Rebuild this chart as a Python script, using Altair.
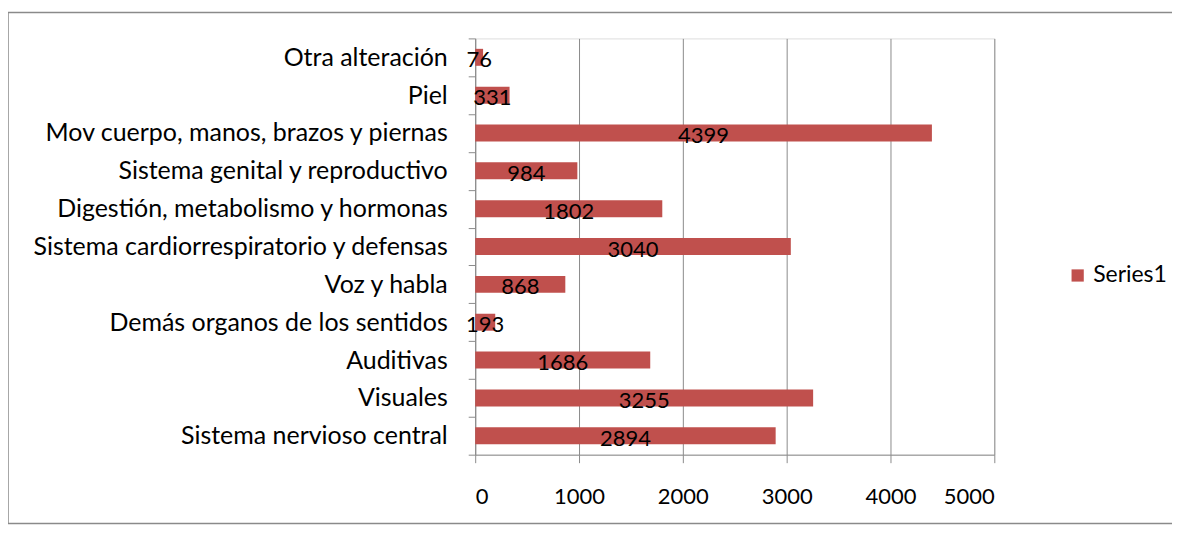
import altair as alt
import pandas as pd

categories = [
    "Otra alteración",
    "Piel",
    "Mov cuerpo, manos, brazos y piernas",
    "Sistema genital y reproductivo",
    "Digestión, metabolismo y hormonas",
    "Sistema cardiorrespiratorio y defensas",
    "Voz y habla",
    "Demás organos de los sentidos",
    "Auditivas",
    "Visuales",
    "Sistema nervioso central",
]
values = [76, 331, 4399, 984, 1802, 3040, 868, 193, 1686, 3255, 2894]
x_ticks = [0, 1000, 2000, 3000, 4000, 5000]
series_name = "Series1"

df = pd.DataFrame({"cat": categories, "val": values, "series": series_name})

FONT = "Lato"
BAR = "#C0504D"
GRID = "#8C8C8C"
FRAME = "#8A8A8A"

y_enc = alt.Y(
    "cat:N",
    sort=None,
    scale=alt.Scale(paddingInner=0, paddingOuter=0),
    axis=alt.Axis(
        title=None,
        tickBand="extent",
        tickSize=7,
        tickColor=GRID,
        domainColor=GRID,
        labelPadding=21,
        labelFont=FONT,
        labelFontSize=25,
        labelColor="black",
        labelLimit=600,
    ),
)

x_enc = alt.X(
    "val:Q",
    scale=alt.Scale(domain=[0, 5000], nice=False),
    axis=alt.Axis(
        title=None,
        values=x_ticks,
        format="d",
        grid=True,
        gridColor=GRID,
        tickSize=8,
        tickColor=GRID,
        domainColor=GRID,
        labelPadding=24,
        labelFont=FONT,
        labelFontSize=22,
        labelColor="black",
    ),
)

bars = alt.Chart(df).mark_bar(size=17).encode(
    x=x_enc,
    y=y_enc,
    color=alt.Color(
        "series:N",
        scale=alt.Scale(range=[BAR]),
        legend=alt.Legend(
            title=None,
            orient="none",
            legendX=592,
            legendY=226,
            symbolType="square",
            symbolSize=150,
            symbolStrokeWidth=0,
            labelFont=FONT,
            labelFontSize=23,
            labelColor="black",
        ),
    ),
)

labels = alt.Chart(df).transform_calculate(half="datum.val / 2").mark_text(
    font=FONT, fontSize=22, color="black", baseline="middle", dy=3
).encode(
    x=alt.X("half:Q"),
    y=alt.Y("cat:N", sort=None),
    text=alt.Text("val:Q"),
)

one = alt.Data(values=[{}])
frame_top = alt.Chart(one).mark_rule(stroke=FRAME, strokeWidth=1.5).encode(
    x=alt.value(-468), x2=alt.value(800), y=alt.value(-26)
)
frame_bottom = alt.Chart(one).mark_rule(stroke=FRAME, strokeWidth=1.5).encode(
    x=alt.value(-468), x2=alt.value(800), y=alt.value(486)
)
frame_left = alt.Chart(one).mark_rule(stroke=FRAME, strokeWidth=1.5).encode(
    x=alt.value(-468), y=alt.value(-26), y2=alt.value(486)
)

chart = alt.layer(frame_top, frame_bottom, frame_left, bars, labels).properties(
    width=520,
    height=417,
    padding={"left": 468, "top": 30, "right": 178, "bottom": 71},
    autosize=alt.AutoSizeParams(type="none"),
).configure_view(stroke=None).configure(background="white")

chart.save("out.html", embed_options={"renderer": "svg", "actions": False})
